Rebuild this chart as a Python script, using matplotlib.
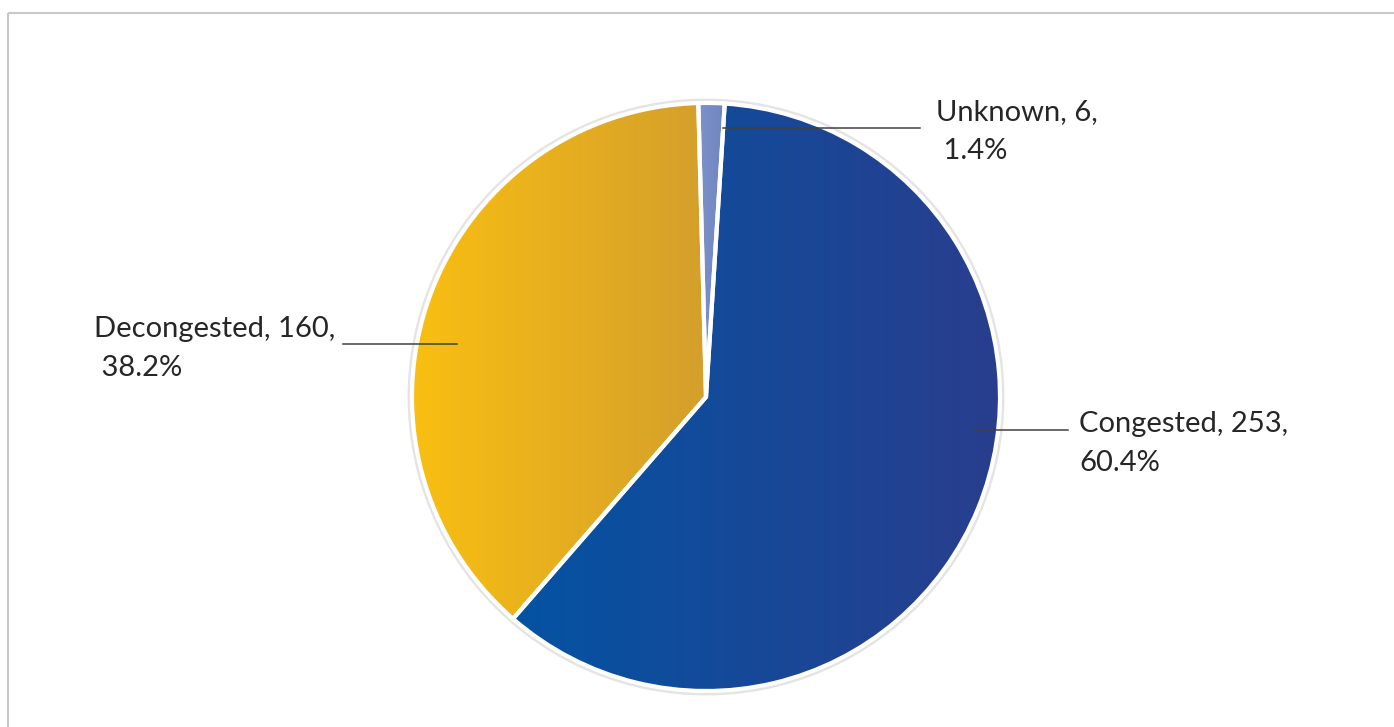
import numpy as np
import matplotlib.pyplot as plt
from matplotlib.colors import LinearSegmentedColormap
from matplotlib.patches import Circle, Rectangle

# Road condition counts
categories = ["Unknown", "Congested", "Decongested"]
counts = [6, 253, 160]

# fill gradients (left -> right) for each slice
gradients = [
    ("#7d91ca", "#7085c0"),
    ("#0453a3", "#293e8d"),
    ("#f9bf12", "#d49f2c"),
]

W, H = 1394, 727
fig = plt.figure(figsize=(W / 100, H / 100), dpi=100)
ax = fig.add_axes([0, 0, 1, 1])

# chart frame
ax.add_patch(Rectangle((8, 13), W + 20, H + 20, fill=False,
                       edgecolor="#c9c9c9", lw=1.5))

cx, cy, r = 706, 397, 294

# light grey rim around the pie
ax.add_patch(Circle((cx, cy), r + 2, fill=False, edgecolor="#e4e4e4", lw=3.5, zorder=1))

# y axis is inverted below, so counterclockwise in data space runs clockwise on screen
wedges, _ = ax.pie(counts, startangle=-91.5, counterclock=True, radius=r,
                   center=(cx, cy), frame=True, explode=[0.02, 0, 0],
                   wedgeprops=dict(edgecolor="white", linewidth=3))

for w, (c0, c1) in zip(wedges, gradients):
    w.set_facecolor("none")
    w.set_zorder(3)
    ext = w.get_path().get_extents(w.get_patch_transform())
    cmap = LinearSegmentedColormap.from_list("g", [c0, c1])
    grad = np.linspace(0, 1, 256).reshape(1, -1)
    im = ax.imshow(grad, cmap=cmap, aspect="auto", zorder=2,
                   extent=(ext.x0, ext.x1, ext.y1, ext.y0), interpolation="bilinear")
    im.set_clip_path(w)

ax.set_xlim(0, W)
ax.set_ylim(H, 0)
ax.axis("off")

total = sum(counts)
labels = [f"{c}, {v},\n{'' if i == 1 else ' '}{v / total * 100:.1f}%"
          for i, (c, v) in enumerate(zip(categories, counts))]

# leader line endpoints and label anchors
leaders = [((723, 128), (920, 128)), ((975, 430), (1068, 430)), ((457, 344), (343, 344))]
anchors = [(936, 99), (1079, 411), (94, 316)]

font = dict(family=["Lato", "DejaVu Sans"], fontsize=21, color="#262626",
            linespacing=1.6, va="top", ha="left")
for (p0, p1), (tx, ty), lab in zip(leaders, anchors, labels):
    ax.plot([p0[0], p1[0]], [p0[1], p1[1]], color="#404040", lw=1.1, zorder=5)
    ax.text(tx, ty, lab, zorder=6, **font)

fig.savefig("out.png", dpi=100)
